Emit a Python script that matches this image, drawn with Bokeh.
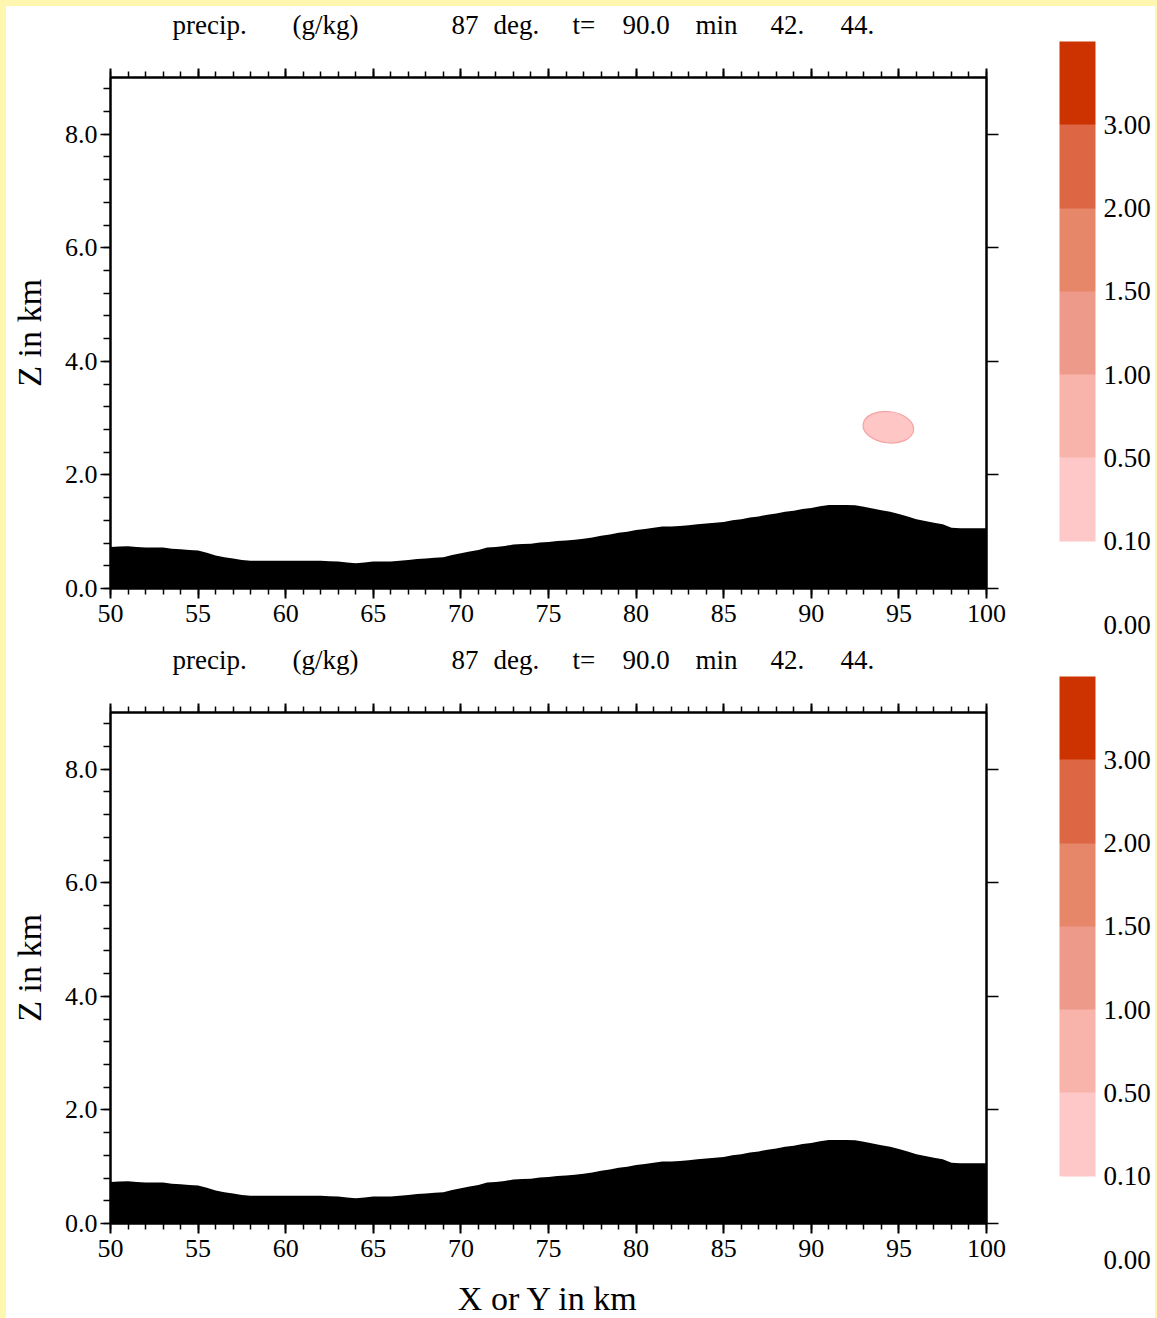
import numpy as np
from bokeh.plotting import figure
from bokeh.models import (Range1d, LinearAxis, FixedTicker, ColumnDataSource,
                          ColorBar, LinearColorMapper)
from bokeh.layouts import column
from bokeh.embed import file_html
from bokeh.resources import INLINE
from bokeh.core.properties import value

# ---------------- data ----------------
x_grid = np.arange(50.0, 100.01, 0.5)
terrain_km = [
    0.73, 0.74, 0.745, 0.73, 0.72, 0.72, 0.72, 0.70, 0.69, 0.68,   # 50.0 - 54.5
    0.67, 0.63, 0.58, 0.55, 0.53, 0.50, 0.49, 0.49, 0.49, 0.49,    # 55.0 - 59.5
    0.49, 0.49, 0.49, 0.49, 0.49, 0.48, 0.475, 0.46, 0.446, 0.46,  # 60.0 - 64.5
    0.476, 0.476, 0.476, 0.49, 0.50, 0.52, 0.53, 0.54, 0.55, 0.59, # 65.0 - 69.5
    0.62, 0.65, 0.68, 0.72, 0.73, 0.75, 0.775, 0.785, 0.79, 0.81,  # 70.0 - 74.5
    0.82, 0.835, 0.845, 0.86, 0.875, 0.90, 0.93, 0.95, 0.98, 1.00, # 75.0 - 79.5
    1.03, 1.05, 1.07, 1.09, 1.09, 1.10, 1.115, 1.13, 1.145, 1.16,  # 80.0 - 84.5
    1.17, 1.20, 1.22, 1.25, 1.27, 1.30, 1.32, 1.35, 1.37, 1.40,    # 85.0 - 89.5
    1.42, 1.45, 1.47, 1.47, 1.47, 1.465, 1.44, 1.41, 1.38, 1.35,   # 90.0 - 94.5
    1.31, 1.27, 1.22, 1.19, 1.16, 1.13, 1.07, 1.06, 1.06, 1.06,    # 95.0 - 99.5
    1.06,                                                          # 100.0
]

# precipitation cell (>= 0.10 g/kg contour), top panel only
cell_x = [94.4]
cell_z = [2.84]
cell_w = [2.9]
cell_h = [0.55]

x_major = [50, 55, 60, 65, 70, 75, 80, 85, 90, 95, 100]
x_minor = list(range(50, 101))
z_major = [0.0, 2.0, 4.0, 6.0, 8.0]
z_major_labels = ["0.0", "2.0", "4.0", "6.0", "8.0"]
z_minor = [round(0.4 * i, 1) for i in range(0, 23)]

levels = [0.00, 0.10, 0.50, 1.00, 1.50, 2.00, 3.00]
level_labels = ["0.00", "0.10", "0.50", "1.00", "1.50", "2.00", "3.00"]
level_colors = ["#FFC8C8", "#F8B4AA", "#EE9A8A", "#E6876A", "#DD6644", "#CC3300"]

title_words = ["precip.", "(g/kg)", "87", "deg.", "t=", "90.0", "min", "42.", "44."]
title_word_x = [53.54, 60.39, 69.46, 71.86, 76.37, 79.22, 83.39, 87.67, 91.67]

FONT = "Liberation Serif"
YELLOW = "#FFF7AF"
LEFT, FRAME_W, RIGHT = 104, 876, 169


def make_title_strip():
    s = figure(frame_width=FRAME_W, frame_height=35, title=None,
               min_border_left=LEFT, min_border_right=RIGHT,
               min_border_top=0, min_border_bottom=0,
               x_range=Range1d(50, 100), y_range=Range1d(0, 1),
               x_axis_location=None, y_axis_location=None,
               output_backend="svg", toolbar_location=None)
    s.grid.visible = False
    s.outline_line_color = None
    s.background_fill_color = "white"
    s.border_fill_color = "white"
    s.text(x=title_word_x, y=[0.46] * len(title_words), text=title_words,
           text_font=value(FONT), text_font_size="27px", text_color="black",
           text_baseline="middle", text_align="left")
    return s


def ticks_only(axis, ticks):
    # frame-side axis that shows tick marks but no tick labels
    axis.major_label_overrides = {t: "" for t in ticks}
    axis.major_label_standoff = 0
    axis.major_label_text_font_size = "10px"


def make_panel(bottom_border, with_cell, with_xlabel):
    p = figure(frame_width=FRAME_W, frame_height=511, title=None,
               min_border_left=LEFT, min_border_right=RIGHT, min_border_top=36,
               min_border_bottom=bottom_border,
               x_range=Range1d(50, 100), y_range=Range1d(0, 9),
               x_axis_location=None, y_axis_location=None,
               output_backend="svg", toolbar_location=None)
    p.grid.visible = False
    p.background_fill_color = "white"
    p.border_fill_color = "white"
    p.outline_line_color = "black"
    p.outline_line_width = 2

    src = ColumnDataSource(dict(x=x_grid, top=terrain_km, base=[0.0] * len(terrain_km)))
    p.varea(x="x", y1="base", y2="top", source=src, fill_color="black")

    if with_cell:
        p.ellipse(x=cell_x, y=cell_z, width=cell_w, height=cell_h, angle=-0.12,
                  fill_color="#FFC6C6", line_color="#F5A3A3", line_width=1.2)

    # bottom axis
    xb = LinearAxis(ticker=FixedTicker(ticks=x_major, minor_ticks=x_minor))
    xb.major_tick_out = 10
    xb.major_tick_in = 0
    xb.minor_tick_out = 6
    xb.minor_tick_in = 0
    xb.major_tick_line_width = 2
    xb.minor_tick_line_width = 1.5
    xb.axis_line_width = 2
    xb.major_label_text_font = FONT
    xb.major_label_text_font_size = "26px"
    xb.major_label_text_color = "black"
    xb.major_label_standoff = 6
    if with_xlabel:
        xb.axis_label = "X or Y in km"
        xb.axis_label_text_font = FONT
        xb.axis_label_text_font_size = "34px"
        xb.axis_label_text_font_style = "normal"
        xb.axis_label_text_color = "black"
        xb.axis_label_standoff = 20
    p.add_layout(xb, "below")

    # top axis (ticks only)
    xt = LinearAxis(ticker=FixedTicker(ticks=x_major, minor_ticks=x_minor))
    xt.major_tick_out = 9
    xt.major_tick_in = 0
    xt.minor_tick_out = 6
    xt.minor_tick_in = 0
    xt.major_tick_line_width = 2
    xt.minor_tick_line_width = 1.5
    xt.axis_line_width = 2
    ticks_only(xt, x_major)
    p.add_layout(xt, "above")

    # left axis
    yl = LinearAxis(ticker=FixedTicker(ticks=z_major, minor_ticks=z_minor))
    yl.major_label_overrides = {v: s for v, s in zip(z_major, z_major_labels)}
    yl.major_tick_out = 10
    yl.major_tick_in = 0
    yl.minor_tick_out = 7
    yl.minor_tick_in = 0
    yl.major_tick_line_width = 1.5
    yl.minor_tick_line_width = 1.5
    yl.axis_line_width = 2
    yl.major_label_text_font = FONT
    yl.major_label_text_font_size = "26px"
    yl.major_label_text_color = "black"
    yl.major_label_standoff = 3
    yl.axis_label = "Z in km"
    yl.axis_label_text_font = FONT
    yl.axis_label_text_font_size = "34px"
    yl.axis_label_text_font_style = "normal"
    yl.axis_label_text_color = "black"
    yl.axis_label_standoff = 14
    p.add_layout(yl, "left")

    # right axis (ticks only)
    yr = LinearAxis(ticker=FixedTicker(ticks=z_major, minor_ticks=[]))
    yr.major_tick_out = 12
    yr.major_tick_in = 0
    yr.major_tick_line_width = 1.5
    yr.axis_line_width = 2
    ticks_only(yr, z_major)
    p.add_layout(yr, "right")

    # colour bar
    idx = list(range(len(levels)))
    mapper = LinearColorMapper(palette=["white"] + level_colors, low=0, high=len(levels))
    cbar = ColorBar(color_mapper=mapper,
                    ticker=FixedTicker(ticks=idx, minor_ticks=[]),
                    major_label_overrides={i: s for i, s in zip(idx, level_labels)},
                    orientation="vertical", width=36, height=583,
                    location=(949, -36), padding=0, margin=0,
                    label_standoff=8,
                    major_label_text_font=FONT, major_label_text_font_size="27px",
                    major_label_text_color="black",
                    major_tick_line_color=None, minor_tick_line_color=None,
                    bar_line_color=None, border_line_color=None,
                    background_fill_color=None, level="overlay")
    p.add_layout(cbar, "center")
    return p


t1 = make_title_strip()
p1 = make_panel(53, True, False)
t2 = make_title_strip()
p2 = make_panel(95, False, True)

layout = column(t1, p1, t2, p2,
                styles={"background-color": "white",
                        "border-top": f"6px solid {YELLOW}",
                        "border-left": f"6px solid {YELLOW}",
                        "border-right": f"2px solid {YELLOW}"})

open("out.html", "w").write(file_html(layout, INLINE))
